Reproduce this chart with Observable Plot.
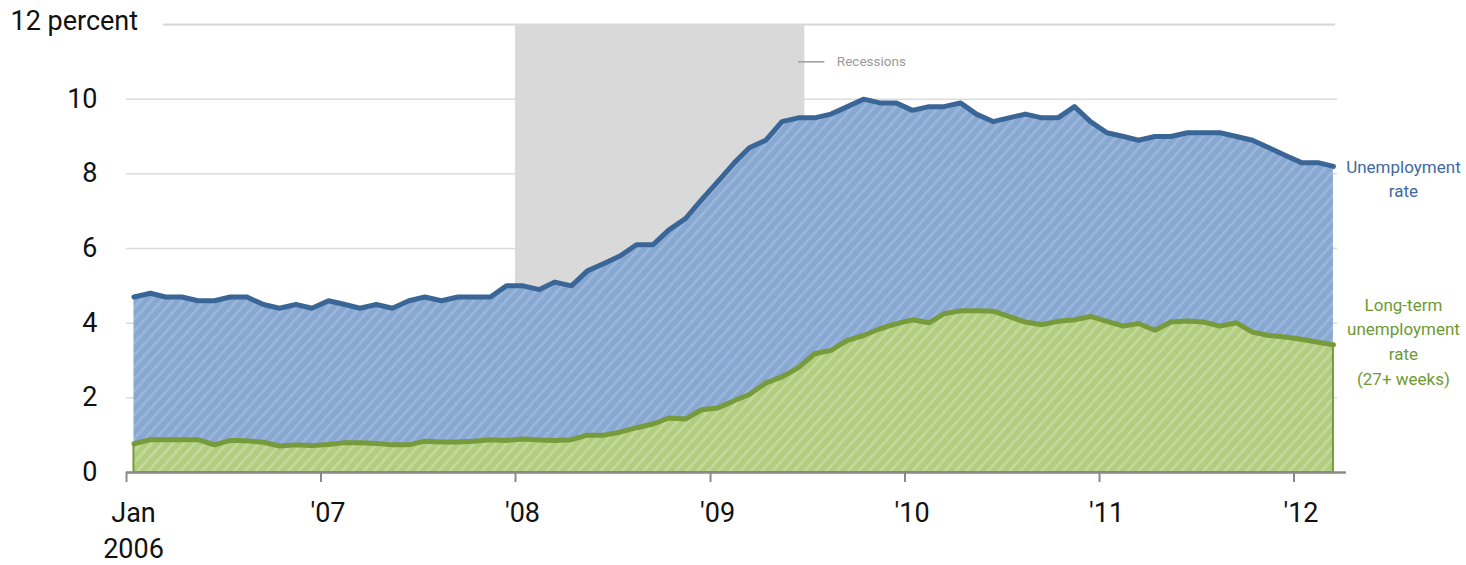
<!DOCTYPE html>
<html>
<head>
<meta charset="utf-8">
<script src="https://cdn.jsdelivr.net/npm/d3@7"></script>
<script src="https://cdn.jsdelivr.net/npm/@observablehq/plot@0.6"></script>
<style>
  html, body { margin: 0; padding: 0; background: #fff; }
  #chart { width: 1466px; height: 565px; }
</style>
</head>
<body>
<div id="chart"></div>
<script>
// ---- Data (monthly, Jan 2006 – Mar 2012) ----
const startYear = 2006;
const unemploymentRate = [
  4.7, 4.8, 4.7, 4.7, 4.6, 4.6, 4.7, 4.7, 4.5, 4.4, 4.5, 4.4,
  4.6, 4.5, 4.4, 4.5, 4.4, 4.6, 4.7, 4.6, 4.7, 4.7, 4.7, 5.0,
  5.0, 4.9, 5.1, 5.0, 5.4, 5.6, 5.8, 6.1, 6.1, 6.5, 6.8, 7.3,
  7.8, 8.3, 8.7, 8.9, 9.4, 9.5, 9.5, 9.6, 9.8, 10.0, 9.9, 9.9,
  9.7, 9.8, 9.8, 9.9, 9.6, 9.4, 9.5, 9.6, 9.5, 9.5, 9.8, 9.4,
  9.1, 9.0, 8.9, 9.0, 9.0, 9.1, 9.1, 9.1, 9.0, 8.9, 8.7, 8.5,
  8.3, 8.3, 8.2
];
const longTermRate = [
  0.77, 0.88, 0.88, 0.88, 0.88, 0.74, 0.86, 0.85, 0.81, 0.71, 0.74, 0.72,
  0.75, 0.80, 0.80, 0.78, 0.74, 0.74, 0.84, 0.82, 0.82, 0.84, 0.88, 0.86,
  0.90, 0.87, 0.86, 0.88, 1.00, 1.00, 1.08, 1.20, 1.30, 1.46, 1.43, 1.68,
  1.73, 1.93, 2.09, 2.40, 2.56, 2.81, 3.18, 3.27, 3.54, 3.67, 3.85, 3.98,
  4.09, 4.01, 4.25, 4.33, 4.33, 4.32, 4.18, 4.03, 3.96, 4.05, 4.09, 4.18,
  4.05, 3.92, 3.99, 3.81, 4.03, 4.06, 4.03, 3.92, 4.01, 3.76, 3.67, 3.63,
  3.57, 3.49, 3.42
];
const yearTickYears = [2006, 2007, 2008, 2009, 2010, 2011, 2012];
const yearTickLabels = ["Jan\n2006", "'07", "'08", "'09", "'10", "'11", "'12"];
const yTicks = [0, 2, 4, 6, 8, 10];
const recession = [{ start: "2008-01-01", end: "2009-06-27" }];
const seriesLabels = {
  unemployment: "Unemployment\nrate",
  longTerm: "Long-term\nunemployment\nrate\n(27+ weeks)"
};

// ---- Build table ----
const data = unemploymentRate.map((u, i) => ({
  date: new Date(Date.UTC(startYear, i, 15)),
  u,
  lt: longTermRate[i]
}));
const last = data[data.length - 1];
const yearTicks = yearTickYears.map(y => new Date(Date.UTC(y, 0, 1)));
const yearLabelRows = yearTicks.map((d, i) => ({ date: d, label: yearTickLabels[i] }));
const rec = recession.map(r => ({ start: new Date(r.start), end: new Date(r.end) }));

const FONT = "Roboto, 'Liberation Sans', sans-serif";
const BLUE_LINE = "#3a6597";
const GREEN_LINE = "#779a3b";

const plot = Plot.plot({
  width: 1466,
  height: 565,
  marginLeft: 126,
  marginRight: 124,
  marginTop: 24,
  marginBottom: 93,
  style: { fontFamily: FONT, fontSize: "27px", color: "#111", background: "#fff", overflow: "visible" },
  x: { type: "utc", domain: [new Date(Date.UTC(2006, 0, 1)), new Date(Date.UTC(2012, 3, 1))], axis: null },
  y: { domain: [0, 12], axis: null },
  marks: [
    // grid
    Plot.ruleY(yTicks, { stroke: "#dcdcdc", strokeWidth: 1.5, insetRight: 5 }),
    Plot.ruleY([12], { stroke: "#d6d6d6", strokeWidth: 2, insetLeft: 37, insetRight: 7 }),
    // recession shading
    Plot.rect(rec, { x1: "start", x2: "end", y1: 0, y2: 12, fill: "#d9d9d9" }),
    // legend for recessions
    Plot.ruleY([11], { x1: () => rec[0].end, x2: () => rec[0].end, insetLeft: -6, insetRight: -20, stroke: "#9a9a9a", strokeWidth: 1.5 }),
    Plot.text([11], { y: d => d, x: () => rec[0].end, text: () => "Recessions", dx: 32, textAnchor: "start", fill: "#9a9a9a", fontSize: 13.5 }),
    // areas
    Plot.areaY(data, { x: "date", y: "u", fill: "url(#hatchBlue)" }),
    Plot.areaY(data, { x: "date", y: "lt", fill: "url(#hatchGreen)", stroke: GREEN_LINE, strokeWidth: 2 }),
    // lines
    Plot.lineY(data, { x: "date", y: "u", stroke: BLUE_LINE, strokeWidth: 5, strokeLinejoin: "round", strokeLinecap: "round" }),
    Plot.lineY(data, { x: "date", y: "lt", stroke: GREEN_LINE, strokeWidth: 5, strokeLinejoin: "round", strokeLinecap: "round" }),
    // x axis
    Plot.ruleY([0], { stroke: "#8a8a8a", strokeWidth: 2.5, insetRight: -4 }),
    Plot.axisX({ ticks: yearTicks, tickSize: 10, tickFormat: () => "", stroke: "#8a8a8a", strokeWidth: 2 }),
    Plot.text(yearLabelRows, { x: "date", text: "label", frameAnchor: "bottom", dx: 7, dy: 23, lineAnchor: "top", lineHeight: 1.36, fill: "#111" }),
    // y axis labels
    Plot.axisY({ ticks: yTicks, tickSize: 0, tickPadding: 29, tickFormat: d => String(d), fill: "#111" }),
    Plot.text([12], { y: d => d, text: () => "12 percent", frameAnchor: "left", textAnchor: "start", dx: -116, dy: -3, fill: "#111" }),
    // series labels
    Plot.text([last], { x: "date", y: "u", text: () => seriesLabels.unemployment, dx: 70, dy: 11, lineHeight: 1.4, fontSize: 17, fill: "#4169a0" }),
    Plot.text([last], { x: "date", y: "lt", text: () => seriesLabels.longTerm, dx: 70, dy: -5, lineHeight: 1.45, fontSize: 17, fill: "#6e9a34" })
  ]
});

// hatch patterns
const NS = "http://www.w3.org/2000/svg";
const defs = document.createElementNS(NS, "defs");
function addPattern(id, base, stripe) {
  const p = document.createElementNS(NS, "pattern");
  p.setAttribute("id", id);
  p.setAttribute("patternUnits", "userSpaceOnUse");
  p.setAttribute("width", "8");
  p.setAttribute("height", "8");
  p.setAttribute("patternTransform", "rotate(42)");
  const r1 = document.createElementNS(NS, "rect");
  r1.setAttribute("width", "8"); r1.setAttribute("height", "8"); r1.setAttribute("fill", base);
  const r2 = document.createElementNS(NS, "rect");
  r2.setAttribute("width", "2.6"); r2.setAttribute("height", "8"); r2.setAttribute("fill", stripe);
  p.appendChild(r1); p.appendChild(r2);
  defs.appendChild(p);
}
addPattern("hatchBlue", "#88a8d2", "#9ab7dc");
addPattern("hatchGreen", "#b1cd7f", "#c3da9c");
plot.insertBefore(defs, plot.firstChild);

document.getElementById("chart").appendChild(plot);
</script>
</body>
</html>
